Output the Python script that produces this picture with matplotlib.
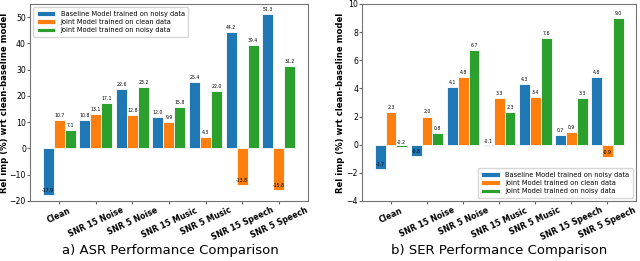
import numpy as np
import matplotlib
matplotlib.use("Agg")
import matplotlib.pyplot as plt

conditions = ["Clean", "SNR 15 Noise", "SNR 5 Noise", "SNR 15 Music",
              "SNR 5 Music", "SNR 15 Speech", "SNR 5 Speech"]
seriesNames = ["Baseline Model trained on noisy data",
               "Joint Model trained on clean data",
               "Joint Model trained on noisy data"]

asrBaseline = [-17.9, 10.8, 22.6, 12.0, 25.4, 44.2, 51.3]
asrJointClean = [10.7, 13.1, 12.8, 9.9, 4.3, -13.8, -15.8]
asrJointNoisy = [7.1, 17.1, 23.2, 15.8, 22.0, 39.4, 31.2]

serBaseline = [-1.7, -0.8, 4.1, -0.1, 4.3, 0.7, 4.8]
serJointClean = [2.3, 2.0, 4.8, 3.3, 3.4, 0.9, -0.9]
serJointNoisy = [-0.2, 0.8, 6.7, 2.3, 7.6, 3.3, 9.0]

colors = ["#1f77b4", "#ff7f0e", "#2ca02c"]
width = 0.3


def barPanel(ax, series, ylim, yticks, legendLoc, labelX):
    x = np.arange(len(conditions))
    for k, vals in enumerate(series):
        bars = ax.bar(x + (k - 1) * width, vals, width, color=colors[k],
                      edgecolor="white", linewidth=0.6, label=seriesNames[k])
        for b, v in zip(bars, vals):
            ax.annotate(f"{v:.1f}", (b.get_x() + b.get_width() / 2, v),
                        xytext=(0, 1.5), textcoords="offset points",
                        ha="center", va="bottom", fontsize=3.3)
    ax.set_xticks(x)
    ax.set_xticklabels(conditions, rotation=25, ha="center",
                       fontsize=5.7, fontweight="bold")
    ax.set_ylim(*ylim)
    ax.set_yticks(yticks)
    ax.tick_params(axis="y", labelsize=5.6, length=2, pad=1, color="0.4")
    ax.tick_params(axis="x", length=2.5, pad=1, color="0.4")
    for s in ax.spines.values():
        s.set_color("0.45")
        s.set_linewidth(0.8)
    ax.set_ylabel("Rel imp (%) wrt clean-baseline model", fontsize=6.1,
                  fontweight="bold")
    ax.yaxis.set_label_coords(labelX, 0.5)
    ax.legend(loc=legendLoc, fontsize=4.8, handlelength=2.8, borderpad=0.5,
              labelspacing=0.35)


fig = plt.figure(figsize=(6.4, 2.61), dpi=100)
axA = fig.add_axes([0.047, 0.23, 0.434, 0.755])
axB = fig.add_axes([0.566, 0.23, 0.428, 0.755])

barPanel(axA, [asrBaseline, asrJointClean, asrJointNoisy], (-20, 55),
         np.arange(-20, 51, 10), "upper left", -0.076)
barPanel(axB, [serBaseline, serJointClean, serJointNoisy], (-4, 10),
         np.arange(-4, 11, 2), "lower right", -0.062)

fig.text(0.2655, 0.042, "a) ASR Performance Comparison", ha="center",
         va="center", fontsize=9.5)
fig.text(0.78, 0.042, "b) SER Performance Comparison", ha="center",
         va="center", fontsize=9.5)

fig.savefig("out.png", dpi=100)
